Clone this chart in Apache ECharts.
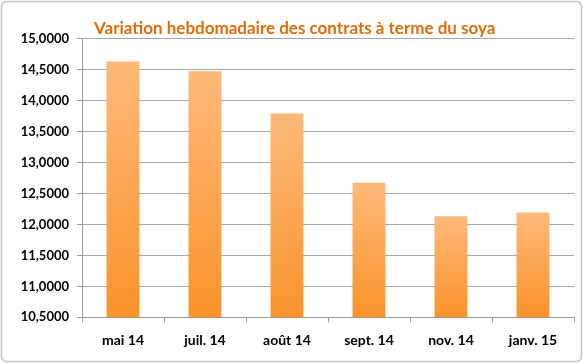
<!DOCTYPE html>
<html><head><meta charset="utf-8">
<script src="https://cdn.jsdelivr.net/npm/echarts@6/dist/echarts.min.js"></script>
<style>html,body{margin:0;padding:0;background:#fff}#c{width:583px;height:363px}</style>
</head><body><div id="c"></div>
<script>
const title = 'Variation hebdomadaire des contrats à terme du soya';
const categories = ['mai 14', 'juil. 14', 'août 14', 'sept. 14', 'nov. 14', 'janv. 15'];
const values = [14.63, 14.47, 13.79, 12.67, 12.13, 12.19];
const yTicks = ['10,5000','11,0000','11,5000','12,0000','12,5000','13,0000','13,5000','14,0000','14,5000','15,0000'];
const yMin = 10.5, yMax = 15, yStep = 0.5;

const chart = echarts.init(document.getElementById('c'), null, {renderer: 'canvas'});
chart.setOption({
  animation: false,
  backgroundColor: '#fff',
  title: {
    text: title, left: 89, top: 15,
    textStyle: {color: '#E36C0A', fontFamily: 'Lato', fontWeight: 'bold', fontSize: 17}
  },
  graphic: [{
    type: 'rect', shape: {x: 1.5, y: 1.5, width: 580, height: 360, r: 5},
    style: {fill: 'none', stroke: '#c4c4c4', lineWidth: 1.5}, silent: true, z: 100
  }],
  grid: {left: 82, right: 9, top: 38.5, bottom: 45.7},
  xAxis: {
    type: 'category', data: categories,
    axisLine: {lineStyle: {color: '#9a9a9a', width: 1}},
    axisTick: {show: true, length: 5, alignWithLabel: false, lineStyle: {color: '#9a9a9a'}},
    axisLabel: {margin: 16, color: '#000', fontFamily: 'Lato', fontWeight: 'bold', fontSize: 14}
  },
  yAxis: {
    type: 'value', min: yMin, max: yMax, interval: yStep,
    axisLine: {show: true, lineStyle: {color: '#9a9a9a', width: 1}},
    axisTick: {show: true, length: 5, lineStyle: {color: '#9a9a9a'}},
    splitLine: {lineStyle: {color: '#a6a6a6', width: 1}},
    axisLabel: {
      margin: 13, color: '#000', fontFamily: 'Lato', fontWeight: 'bold', fontSize: 13,
      formatter: v => yTicks[Math.round((v - yMin) / yStep)]
    }
  },
  series: [{
    type: 'bar', data: values, barWidth: '40%',
    itemStyle: {
      color: new echarts.graphic.LinearGradient(0, 0, 0, 1, [
        {offset: 0, color: '#FDB979'},
        {offset: 1, color: '#FA932A'}
      ]),
      shadowColor: 'rgba(0,0,0,0.12)', shadowBlur: 3, shadowOffsetX: 0, shadowOffsetY: 1
    }
  }]
});
</script></body></html>
